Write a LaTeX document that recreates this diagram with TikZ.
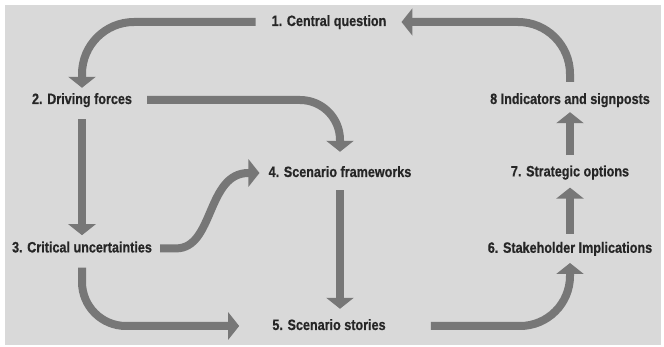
\documentclass[tikz,border=0pt]{standalone}
\usepackage{fontspec}
\usepackage{xcolor}
\usepackage{tikz}
\usetikzlibrary{positioning,arrows.meta,calc}
\newfontfamily\condfont{Liberation Sans}[FakeStretch=0.84,
  BoldFeatures={FakeBold=0.6}]
\definecolor{flowgrey}{HTML}{777777}
\definecolor{panelgrey}{HTML}{D9D9D9}
\definecolor{labelink}{HTML}{262626}

\begin{document}
\begin{tikzpicture}[x=1pt, y=-1pt, >={Triangle[width=27pt,length=11pt]},
  stage/.style={inner sep=0pt, text height=11pt, text depth=3pt,
    text=labelink, font=\condfont\bfseries\fontsize{15}{18}\selectfont},
  flow/.style={->, line width=8pt, draw=flowgrey}]
  \useasboundingbox (0,0) rectangle (664,347);
  \fill[panelgrey] (5,5) rectangle (661,345);

  % Left column
  \node[stage] (n1) at (329,22) {1. Central question};
  \node[stage] (n2) at (82,100) {2. Driving forces};
  \node[stage, below=134pt of n2] (n3) {3. Critical uncertainties};

  % Middle column
  \node[stage] (n4) at (340,173) {4. Scenario frameworks};
  \node[stage] (n5) at (329,326) {5. Scenario stories};

  % Right column
  \node[stage] (n8) at (570,100) {8 Indicators and signposts};
  \node[stage, below=58pt of n8] (n7) {7. Strategic options};
  \node[stage, below=62pt of n7] (n6) {6. Stakeholder Implications};

  % Arrows
  \draw[flow, rounded corners=52pt]
    ([xshift=-16pt]n1.west) -| ([yshift=5pt]n2.north);
  \draw[flow, rounded corners=40pt]
    ([xshift=15pt]n2.east) -| ([yshift=14pt]n4.north);
  \draw[flow] ([yshift=-12pt]n2.south) -- ([yshift=6pt]n3.north);
  \draw[flow] ([xshift=8pt]n3.east) -- ++(16,0)
    .. controls +(38,0) and +(-42,0) .. ([xshift=-20pt]n4.west)
    -- ([xshift=-9pt]n4.west);
  \draw[flow, rounded corners=44pt]
    ([yshift=-12pt]n3.south) |- ([xshift=-33pt]n5.west);
  \draw[flow] ([yshift=-10pt]n4.south)
    -- ($(n4.south |- n5.north)+(0,-10)$);
  \draw[flow, rounded corners=50pt]
    ([xshift=45pt]n5.east) -| ([yshift=-7pt]n6.south);
  \draw[flow] ([yshift=8pt]n6.north) -- ([yshift=-8pt]n7.south);
  \draw[flow] ([yshift=10pt]n7.north) -- ([yshift=-5pt]n8.south);
  \draw[flow, rounded corners=52pt]
    ([yshift=11pt]n8.north) |- ([xshift=15pt]n1.east);
\end{tikzpicture}
\end{document}
